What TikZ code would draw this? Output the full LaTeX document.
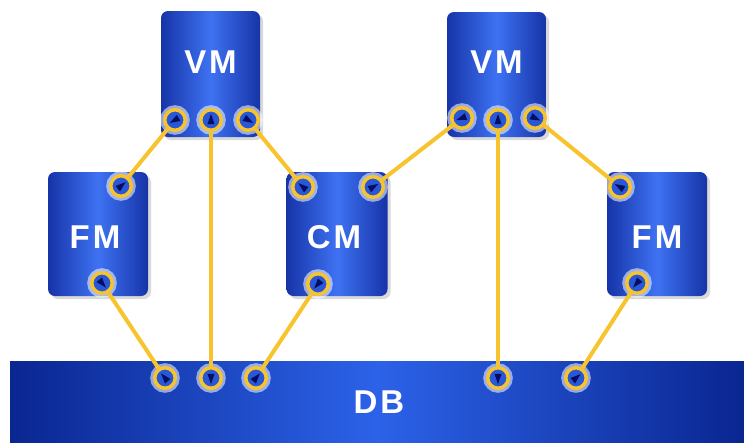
\documentclass[tikz,border=0pt]{standalone}
\usepackage{fontspec}
\setmainfont{Liberation Sans}
\usetikzlibrary{calc,shadows}
\definecolor{boxedge}{RGB}{22,52,168}
\definecolor{boxmid}{RGB}{62,114,242}
\definecolor{dbedge}{RGB}{10,38,145}
\definecolor{dbmid}{RGB}{44,98,232}
\definecolor{wire}{RGB}{247,196,46}
\definecolor{tricol}{RGB}{6,14,95}
\definecolor{portfill}{RGB}{40,88,215}
\newcommand\tri[2]{\fill[tricol] ($(#1.center)+(#2:6pt)$) -- ($(#1.center)+(#2+140:5.5pt)$) -- ($(#1.center)+(#2-140:5.5pt)$) -- cycle;}
\begin{document}
\begin{tikzpicture}[x=1pt,y=-1pt,
  box/.style={rectangle, rounded corners=7pt, inner sep=0pt,
    left color=boxedge, right color=boxedge, middle color=boxmid,
    drop shadow={shadow xshift=3pt, shadow yshift=-3pt, opacity=0.15, fill=black}},
  dbbox/.style={rectangle, inner sep=0pt, left color=dbedge, right color=dbedge, middle color=dbmid},
  lbl/.style={text=white, inner sep=0pt, font=\fontsize{33}{33}\selectfont\bfseries},
  port/.style={circle, minimum size=20.5pt, inner sep=0pt, fill=portfill, draw=wire, line width=3.5pt,
    preaction={draw=white, line width=9pt, opacity=0.55}},
  conn/.style={draw=wire, line width=4pt}
]
\useasboundingbox (0,0) rectangle (744,442);
\fill[white] (0,0) rectangle (744,442);

% boxes
\node[box, minimum width=99pt, minimum height=126pt] (vm1) at (210.5,74) {};
\node[box, minimum width=99pt, minimum height=125pt] (vm2) at (496.5,74.5) {};
\node[box, minimum width=100pt, minimum height=124pt] (fm1) at (98,234) {};
\node[box, minimum width=101pt, minimum height=124pt] (cm) at (337,234) {};
\node[box, minimum width=100pt, minimum height=124pt] (fm2) at (657,234) {};
\node[dbbox, minimum width=734pt, minimum height=81pt] (db) at (377,401.5) {};

% labels
\node[lbl] (vm1t) at (210.5,62) {V\kern3pt M};
\node[lbl] (vm2t) at (496.5,62) {V\kern3pt M};
\node[lbl] (fm1t) at (95,237) {F\kern3pt M};
\node[lbl] (cmt) at (334,237) {C\kern3pt M};
\node[lbl] (fm2t) at (657,237) {F\kern3pt M};
\node[lbl] (dbt) at (379,402) {D\kern3pt B};

% ports
\node[port] (v1a) at (175,120) {};
\node[port] (v1b) at (211,120) {};
\node[port] (v1c) at (248,120) {};
\node[port] (v2a) at (462,118) {};
\node[port] (v2b) at (498,120) {};
\node[port] (v2c) at (535,118) {};
\node[port] (f1a) at (121,186) {};
\node[port] (f1b) at (102,283) {};
\node[port] (c1a) at (303,187) {};
\node[port] (c1b) at (373,187) {};
\node[port] (c1c) at (318,284) {};
\node[port] (f2a) at (620,187) {};
\node[port] (f2b) at (637,283) {};
\node[port] (d1) at (165,378) {};
\node[port] (d2) at (211,378) {};
\node[port] (d3) at (256,378) {};
\node[port] (d4) at (498,378) {};
\node[port] (d5) at (576,378) {};

% connectors
\draw[conn] (v1a) -- (f1a);
\draw[conn] (v1b) -- (d2);
\draw[conn] (v1c) -- (c1a);
\draw[conn] (v2a) -- (c1b);
\draw[conn] (v2b) -- (d4);
\draw[conn] (v2c) -- (f2a);
\draw[conn] (f1b) -- (d1);
\draw[conn] (c1c) -- (d3);
\draw[conn] (f2b) -- (d5);

% arrow triangles
\tri{v1a}{-150}
\tri{f1a}{40}
\tri{v1c}{-30}
\tri{c1a}{140}
\tri{v2a}{-160}
\tri{c1b}{30}
\tri{v2c}{-25}
\tri{f2a}{150}
\tri{f1b}{-50}
\tri{d1}{130}
\tri{c1c}{-130}
\tri{d3}{50}
\tri{f2b}{-130}
\tri{d5}{40}
\tri{v1b}{90}
\tri{v2b}{90}
\tri{d2}{-90}
\tri{d4}{-90}
\end{tikzpicture}
\end{document}
